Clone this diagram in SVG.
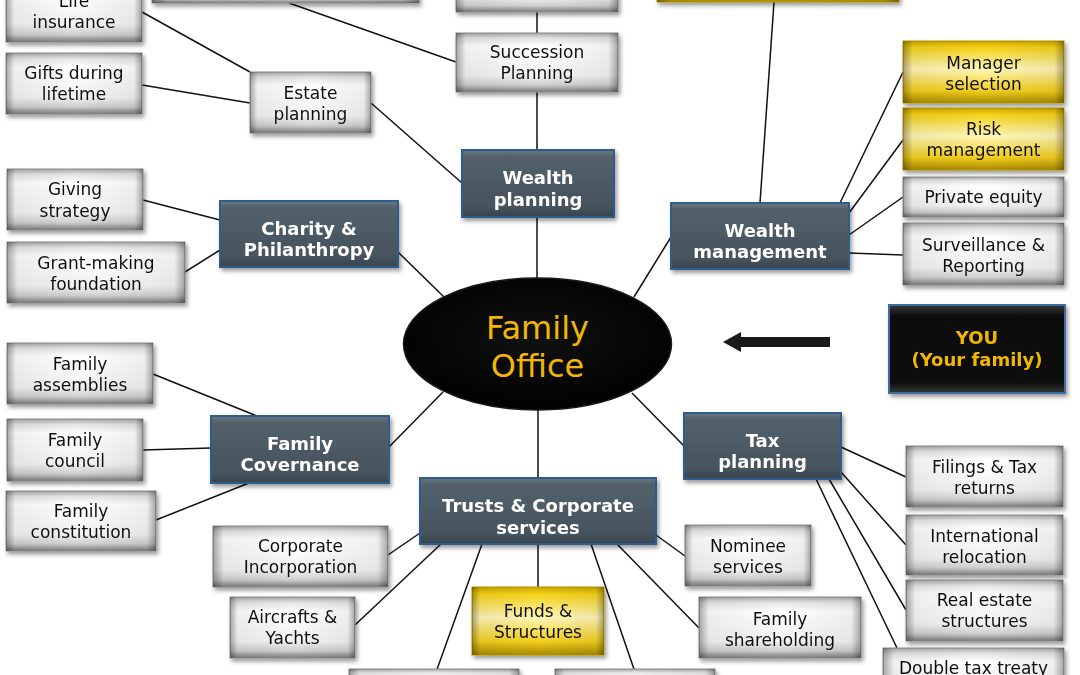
<svg xmlns="http://www.w3.org/2000/svg" width="1080" height="675" viewBox="0 0 1080 675">
<defs>
<linearGradient id="gV" x1="0" y1="0" x2="0" y2="1">
<stop offset="0" stop-color="#a8a8a8"/><stop offset="0.09" stop-color="#e4e4e4"/><stop offset="0.22" stop-color="#ffffff"/><stop offset="0.72" stop-color="#f3f3f3"/><stop offset="0.88" stop-color="#cfcfcf"/><stop offset="1" stop-color="#7a7a7a"/>
</linearGradient>
<linearGradient id="yV" x1="0" y1="0" x2="0" y2="1">
<stop offset="0" stop-color="#caa400"/><stop offset="0.1" stop-color="#f5d216"/><stop offset="0.45" stop-color="#fff6b8"/><stop offset="0.8" stop-color="#f4cf1e"/><stop offset="1" stop-color="#a88a00"/>
</linearGradient>
<linearGradient id="eH" x1="0" y1="0" x2="1" y2="0">
<stop offset="0" stop-color="#000" stop-opacity="0.35"/><stop offset="0.06" stop-color="#000" stop-opacity="0.06"/><stop offset="0.5" stop-color="#000" stop-opacity="0"/><stop offset="0.94" stop-color="#000" stop-opacity="0.06"/><stop offset="1" stop-color="#000" stop-opacity="0.35"/>
</linearGradient>
<linearGradient id="dV" x1="0" y1="0" x2="0" y2="1">
<stop offset="0" stop-color="#6a7882"/><stop offset="0.1" stop-color="#53616b"/><stop offset="0.85" stop-color="#46535d"/><stop offset="1" stop-color="#37434c"/>
</linearGradient>
<linearGradient id="kV" x1="0" y1="0" x2="0" y2="1">
<stop offset="0" stop-color="#3a3a3a"/><stop offset="0.12" stop-color="#0d0d0d"/><stop offset="0.88" stop-color="#0d0d0d"/><stop offset="1" stop-color="#3a3a3a"/>
</linearGradient>
<radialGradient id="ell" cx="0.5" cy="0.45" r="0.6">
<stop offset="0" stop-color="#111"/><stop offset="1" stop-color="#000"/>
</radialGradient>
<filter id="sh" x="-10%" y="-10%" width="125%" height="135%">
<feDropShadow dx="2" dy="3" stdDeviation="2" flood-color="#000" flood-opacity="0.4"/>
</filter>
</defs>
<style>
.g{fill:url(#gV);stroke:#8c8c8c;stroke-width:1}
.y{fill:url(#yV);stroke:#b59600;stroke-width:1}
.o{fill:url(#eH)}
.d{fill:url(#dV);stroke:#2d5d8c;stroke-width:2}
.t{font-family:"DejaVu Sans",Verdana,sans-serif;font-size:17px;fill:#111;text-anchor:middle}
.tb{font-family:"DejaVu Sans",Verdana,sans-serif;font-size:18px;font-weight:bold;fill:#fff;text-anchor:middle}
.ty{font-family:"DejaVu Sans",Verdana,sans-serif;font-size:18px;font-weight:bold;fill:#f2b705;text-anchor:middle}
.tf{font-family:"DejaVu Sans",Verdana,sans-serif;font-size:32px;fill:#f2b705;text-anchor:middle}
#connectors line{stroke:#111;stroke-width:1.5}
</style>
<rect width="1080" height="675" fill="#fff"/>
<g id="connectors">
<line x1="142" y1="12" x2="250" y2="72"/>
<line x1="142" y1="85" x2="250" y2="103"/>
<line x1="371" y1="103" x2="462" y2="183"/>
<line x1="289" y1="3" x2="456" y2="62"/>
<line x1="537" y1="12" x2="537" y2="33"/>
<line x1="537" y1="92" x2="537" y2="150"/>
<line x1="537" y1="217" x2="537" y2="278"/>
<line x1="143" y1="200" x2="220" y2="220"/>
<line x1="185" y1="272" x2="220" y2="250"/>
<line x1="398" y1="252" x2="444" y2="297"/>
<line x1="774" y1="2" x2="760" y2="203"/>
<line x1="634" y1="297" x2="671" y2="237"/>
<line x1="840" y1="203" x2="903" y2="72"/>
<line x1="849" y1="213" x2="903" y2="140"/>
<line x1="849" y1="235" x2="903" y2="197"/>
<line x1="849" y1="253" x2="903" y2="255"/>
<line x1="153" y1="374" x2="257" y2="416"/>
<line x1="143" y1="450" x2="211" y2="448"/>
<line x1="156" y1="520" x2="249" y2="483"/>
<line x1="389" y1="447" x2="443" y2="392"/>
<line x1="538" y1="410" x2="538" y2="478"/>
<line x1="632" y1="393" x2="684" y2="446"/>
<line x1="420" y1="533" x2="388" y2="555"/>
<line x1="441" y1="544" x2="355" y2="625"/>
<line x1="482" y1="544" x2="435" y2="675"/>
<line x1="538" y1="544" x2="538" y2="587"/>
<line x1="591" y1="544" x2="636" y2="675"/>
<line x1="617" y1="544" x2="699" y2="628"/>
<line x1="656" y1="535" x2="685" y2="556"/>
<line x1="841" y1="447" x2="906" y2="477"/>
<line x1="841" y1="472" x2="906" y2="545"/>
<line x1="829" y1="479" x2="906" y2="610"/>
<line x1="816" y1="479" x2="897" y2="648"/>
</g>
<g id="arrow">
<polygon points="723,342 741,332 741,337 830,337 830,347 741,347 741,352" fill="#1a1a1a"/>
</g>
<g id="top-left-cut" filter="url(#sh)"><rect class="g" x="152" y="-30" width="267" height="33"/><rect class="o" x="152" y="-30" width="267" height="33"/></g>
<g id="top-mid-cut" filter="url(#sh)"><rect class="g" x="456" y="-40" width="162" height="52"/><rect class="o" x="456" y="-40" width="162" height="52"/></g>
<g id="top-right-cut" filter="url(#sh)"><rect class="y" x="657" y="-40" width="242" height="42"/><rect class="o" x="657" y="-40" width="242" height="42"/></g>
<g id="life-insurance" filter="url(#sh)"><rect class="g" x="6" y="-20" width="136" height="62"/><rect class="o" x="6" y="-20" width="136" height="62"/><text class="t" x="74" y="7">Life</text><text class="t" x="74" y="28">insurance</text></g>
<g id="gifts" filter="url(#sh)"><rect class="g" x="6" y="53" width="136" height="61"/><rect class="o" x="6" y="53" width="136" height="61"/><text class="t" x="74" y="79">Gifts during</text><text class="t" x="74" y="100">lifetime</text></g>
<g id="estate-planning" filter="url(#sh)"><rect class="g" x="250" y="72" width="121" height="61"/><rect class="o" x="250" y="72" width="121" height="61"/><text class="t" x="310.5" y="99">Estate</text><text class="t" x="310.5" y="120">planning</text></g>
<g id="succession-planning" filter="url(#sh)"><rect class="g" x="456" y="33" width="162" height="59"/><rect class="o" x="456" y="33" width="162" height="59"/><text class="t" x="537" y="58">Succession</text><text class="t" x="537" y="79">Planning</text></g>
<g id="wealth-planning" filter="url(#sh)"><rect class="d" x="462" y="150" width="152" height="67"/><text class="tb" x="538" y="183.5">Wealth</text><text class="tb" x="538" y="205.5">planning</text></g>
<g id="giving-strategy" filter="url(#sh)"><rect class="g" x="7" y="169" width="136" height="61"/><rect class="o" x="7" y="169" width="136" height="61"/><text class="t" x="75" y="195">Giving</text><text class="t" x="75" y="217">strategy</text></g>
<g id="grant-making" filter="url(#sh)"><rect class="g" x="7" y="242" width="178" height="61"/><rect class="o" x="7" y="242" width="178" height="61"/><text class="t" x="96" y="269">Grant-making</text><text class="t" x="96" y="290">foundation</text></g>
<g id="charity" filter="url(#sh)"><rect class="d" x="220" y="201" width="178" height="66"/><text class="tb" x="309" y="234.5">Charity &amp;</text><text class="tb" x="309" y="255.5">Philanthropy</text></g>
<g id="wealth-management" filter="url(#sh)"><rect class="d" x="671" y="203" width="178" height="66"/><text class="tb" x="760" y="236.5">Wealth</text><text class="tb" x="760" y="257.5">management</text></g>
<g id="manager-selection" filter="url(#sh)"><rect class="y" x="903" y="41" width="161" height="62"/><rect class="o" x="903" y="41" width="161" height="62"/><text class="t" x="983.5" y="69">Manager</text><text class="t" x="983.5" y="90">selection</text></g>
<g id="risk-management" filter="url(#sh)"><rect class="y" x="903" y="108" width="161" height="62"/><rect class="o" x="903" y="108" width="161" height="62"/><text class="t" x="983.5" y="135">Risk</text><text class="t" x="983.5" y="156">management</text></g>
<g id="private-equity" filter="url(#sh)"><rect class="g" x="903" y="177" width="161" height="40"/><rect class="o" x="903" y="177" width="161" height="40"/><text class="t" x="983.5" y="203">Private equity</text></g>
<g id="surveillance" filter="url(#sh)"><rect class="g" x="903" y="223" width="161" height="62"/><rect class="o" x="903" y="223" width="161" height="62"/><text class="t" x="983.5" y="251">Surveillance &amp;</text><text class="t" x="983.5" y="272">Reporting</text></g>
<g id="family-office"><ellipse cx="537.5" cy="344" rx="134" ry="66" fill="url(#ell)" stroke="#1a1a1a" stroke-width="1.5"/><text class="tf" x="537.5" y="338.5">Family</text><text class="tf" x="537.5" y="376.5">Office</text></g>
<g id="you" filter="url(#sh)"><rect x="889" y="305" width="176" height="88" fill="url(#kV)" stroke="#3b6e9e" stroke-width="2"/><text class="ty" x="977" y="343.5">YOU</text><text class="ty" x="977" y="365.5">(Your family)</text></g>
<g id="family-assemblies" filter="url(#sh)"><rect class="g" x="7" y="343" width="146" height="61"/><rect class="o" x="7" y="343" width="146" height="61"/><text class="t" x="80" y="370">Family</text><text class="t" x="80" y="391">assemblies</text></g>
<g id="family-council" filter="url(#sh)"><rect class="g" x="7" y="419" width="136" height="62"/><rect class="o" x="7" y="419" width="136" height="62"/><text class="t" x="75" y="446">Family</text><text class="t" x="75" y="467">council</text></g>
<g id="family-constitution" filter="url(#sh)"><rect class="g" x="6" y="491" width="150" height="60"/><rect class="o" x="6" y="491" width="150" height="60"/><text class="t" x="81" y="517">Family</text><text class="t" x="81" y="538">constitution</text></g>
<g id="family-covernance" filter="url(#sh)"><rect class="d" x="211" y="416" width="178" height="67"/><text class="tb" x="300" y="449.5">Family</text><text class="tb" x="300" y="470.5">Covernance</text></g>
<g id="tax-planning" filter="url(#sh)"><rect class="d" x="684" y="413" width="157" height="66"/><text class="tb" x="762.5" y="446.5">Tax</text><text class="tb" x="762.5" y="467.5">planning</text></g>
<g id="trusts" filter="url(#sh)"><rect class="d" x="420" y="478" width="236" height="66"/><text class="tb" x="538" y="511.5">Trusts &amp; Corporate</text><text class="tb" x="538" y="533.5">services</text></g>
<g id="corporate-incorporation" filter="url(#sh)"><rect class="g" x="213" y="526" width="175" height="61"/><rect class="o" x="213" y="526" width="175" height="61"/><text class="t" x="300.5" y="552">Corporate</text><text class="t" x="300.5" y="573">Incorporation</text></g>
<g id="aircrafts" filter="url(#sh)"><rect class="g" x="230" y="597" width="125" height="61"/><rect class="o" x="230" y="597" width="125" height="61"/><text class="t" x="292.5" y="623">Aircrafts &amp;</text><text class="t" x="292.5" y="644">Yachts</text></g>
<g id="funds" filter="url(#sh)"><rect class="y" x="472" y="587" width="132" height="68"/><rect class="o" x="472" y="587" width="132" height="68"/><text class="t" x="538" y="617">Funds &amp;</text><text class="t" x="538" y="638">Structures</text></g>
<g id="nominee" filter="url(#sh)"><rect class="g" x="685" y="525" width="126" height="61"/><rect class="o" x="685" y="525" width="126" height="61"/><text class="t" x="748" y="552">Nominee</text><text class="t" x="748" y="573">services</text></g>
<g id="family-shareholding" filter="url(#sh)"><rect class="g" x="699" y="597" width="162" height="61"/><rect class="o" x="699" y="597" width="162" height="61"/><text class="t" x="780" y="625">Family</text><text class="t" x="780" y="646">shareholding</text></g>
<g id="filings" filter="url(#sh)"><rect class="g" x="906" y="446" width="157" height="61"/><rect class="o" x="906" y="446" width="157" height="61"/><text class="t" x="984.5" y="473">Filings &amp; Tax</text><text class="t" x="984.5" y="494">returns</text></g>
<g id="international" filter="url(#sh)"><rect class="g" x="906" y="515" width="157" height="60"/><rect class="o" x="906" y="515" width="157" height="60"/><text class="t" x="984.5" y="542">International</text><text class="t" x="984.5" y="563">relocation</text></g>
<g id="real-estate" filter="url(#sh)"><rect class="g" x="906" y="580" width="157" height="61"/><rect class="o" x="906" y="580" width="157" height="61"/><text class="t" x="984.5" y="606">Real estate</text><text class="t" x="984.5" y="627">structures</text></g>
<g id="double-tax" filter="url(#sh)"><rect class="g" x="883" y="648" width="181" height="60"/><rect class="o" x="883" y="648" width="181" height="60"/><text class="t" x="973.5" y="674">Double tax treaty</text></g>
<g id="bottom-left-cut" filter="url(#sh)"><rect class="g" x="349" y="669" width="170" height="40"/><rect class="o" x="349" y="669" width="170" height="40"/></g>
<g id="bottom-mid-cut" filter="url(#sh)"><rect class="g" x="555" y="669" width="160" height="40"/><rect class="o" x="555" y="669" width="160" height="40"/></g>
</svg>
